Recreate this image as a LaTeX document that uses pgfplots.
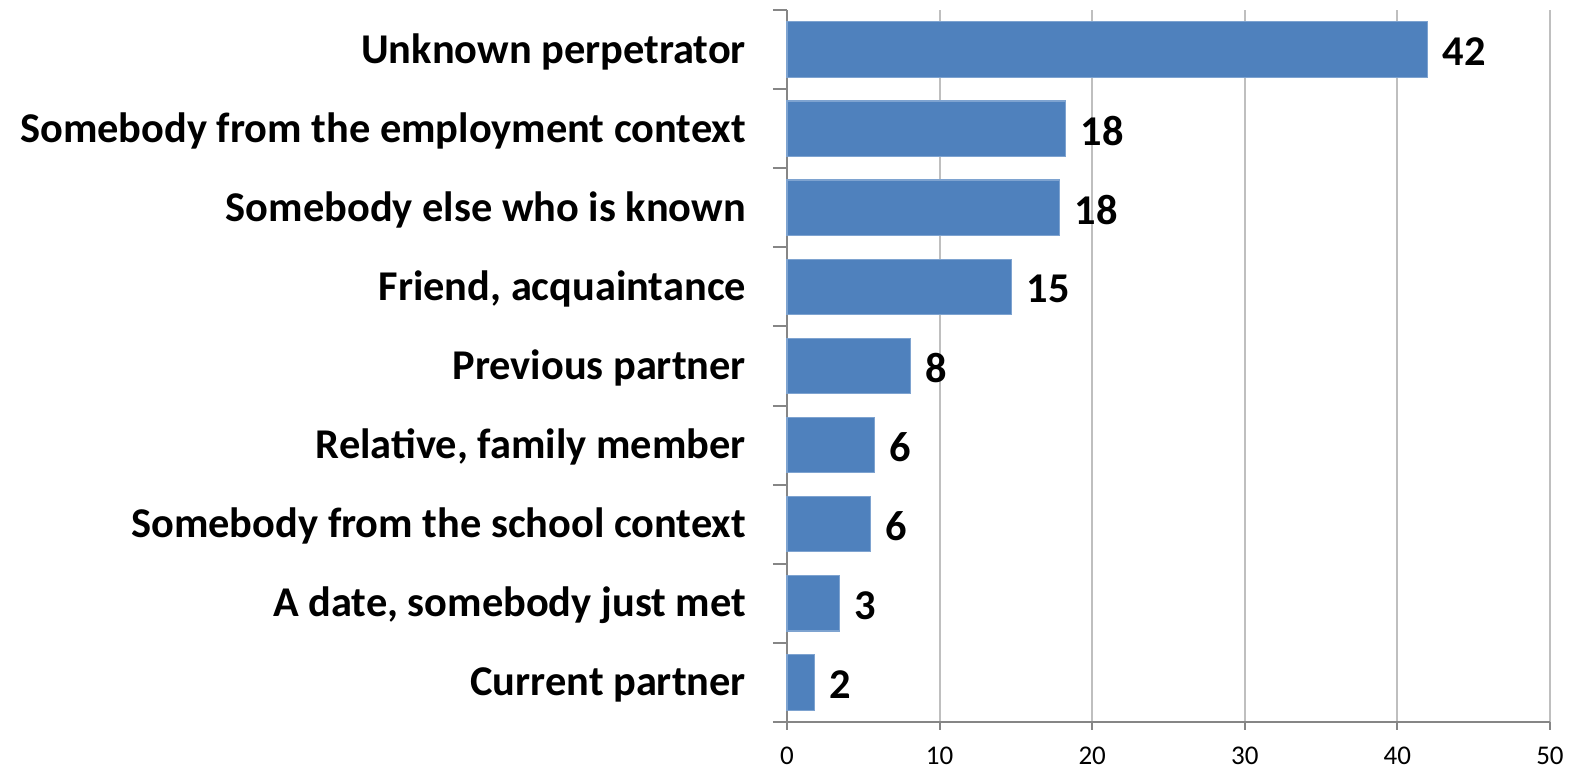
\documentclass[border=0pt]{standalone}
\usepackage{pgfplots}
\pgfplotsset{compat=1.18}
\usepackage{fontspec}
\setmainfont{Carlito}
\definecolor{barblue}{HTML}{4F81BD}
\definecolor{baredge}{HTML}{7EA3D0}
\definecolor{axisgray}{HTML}{868686}
\definecolor{gridgray}{HTML}{BFBFBF}
\begin{document}
\begin{tikzpicture}
\useasboundingbox (0,0) rectangle (785pt,384.5pt);
\begin{axis}[
  at={(393.5pt,23.5pt)}, anchor=south west,
  scale only axis, width=381.5pt, height=356pt,
  xbar, bar width=0.7,
  xmin=0, xmax=50, ymin=-0.5, ymax=8.5,
  axis lines=left,
  axis line style={-, draw=axisgray, line width=1pt},
  xtick={0,10,...,50},
  xmajorgrids, major grid style={draw=gridgray, line width=1pt},
  ytick={0,...,8},
  yticklabels={Current partner, {A date, somebody just met}, Somebody from the school context, {Relative, family member}, Previous partner, {Friend, acquaintance}, Somebody else who is known, Somebody from the employment context, Unknown perpetrator},
  minor ytick={-0.5,0.5,...,8.5},
  tick align=outside,
  major tick length=4pt, minor tick length=7pt,
  y tick style={draw=none},
  minor y tick style={draw=axisgray, line width=1pt},
  x tick style={draw=axisgray, line width=1pt},
  y tick label style={font=\fontsize{21.2}{24}\selectfont\bfseries, xshift=-13pt, yshift=-1pt},
  x tick label style={font=\fontsize{13.5}{16}\selectfont, yshift=-5pt},
  /pgf/number format/assume math mode=true,
  point meta=explicit symbolic,
  nodes near coords,
  nodes near coords style={font=\fontsize{21.2}{24}\selectfont\bfseries, anchor=west, xshift=4pt, yshift=-1pt},
  clip=false,
]
\addplot[fill=barblue, draw=baredge, line width=0.6pt] table[meta=lab] {
x y lab
1.78 0 2
3.43 1 3
5.47 2 6
5.73 3 6
8.10 4 8
14.70 5 15
17.85 6 18
18.25 7 18
41.96 8 42
};
\end{axis}
\end{tikzpicture}
\end{document}
